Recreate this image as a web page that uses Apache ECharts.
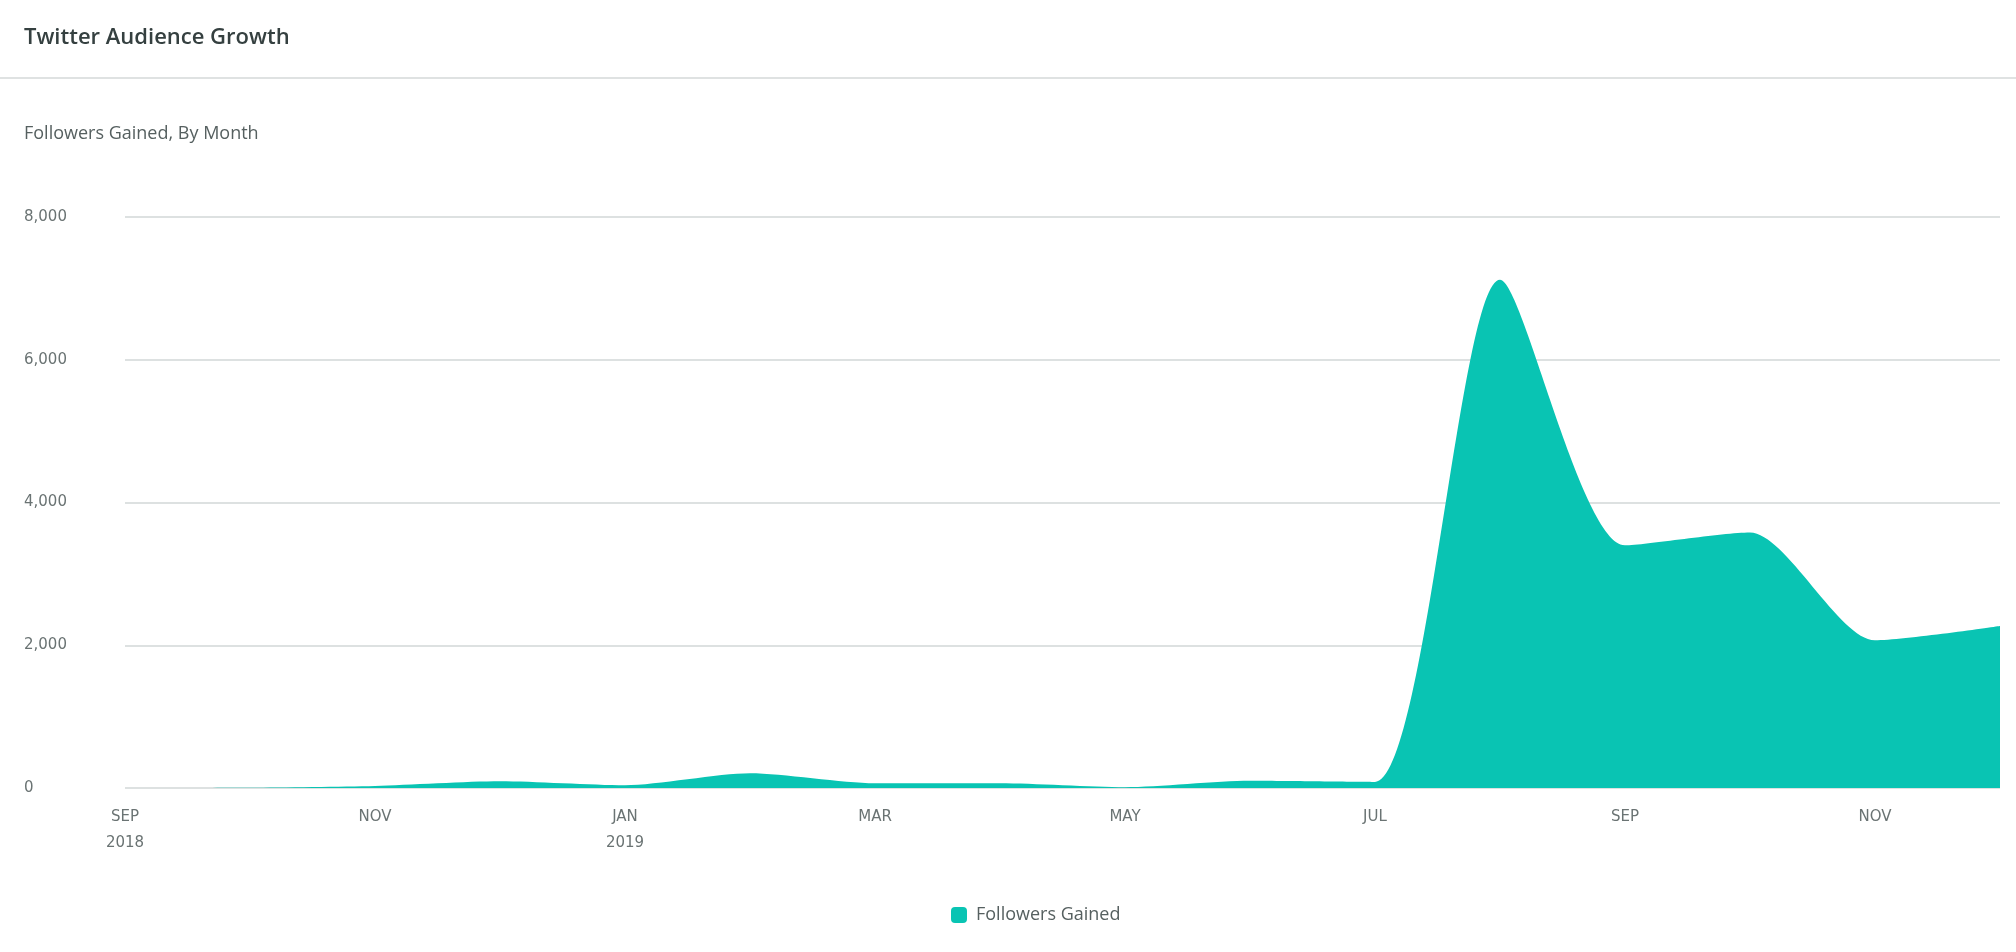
<!DOCTYPE html>
<html>
<head>
<meta charset="utf-8">
<title>Twitter Audience Growth</title>
<script src="https://cdn.jsdelivr.net/npm/echarts@6/dist/echarts.min.js"></script>
<style>
  html, body { margin: 0; padding: 0; background: #fff; }
  #chart { width: 2016px; height: 952px; }
</style>
</head>
<body>
<div id="chart"></div>
<script>
// months on the x axis (Sep 2018 - Dec 2019)
var months = ['2018-09', '2018-10', '2018-11', '2018-12', '2019-01', '2019-02', '2019-03', '2019-04',
  '2019-05', '2019-06', '2019-07', '2019-08', '2019-09', '2019-10', '2019-11', '2019-12'];
// tick labels shown under every second month
var monthLabels = ['SEP\n2018', 'OCT', 'NOV', 'DEC', 'JAN\n2019', 'FEB', 'MAR', 'APR',
  'MAY', 'JUN', 'JUL', 'AUG', 'SEP', 'OCT', 'NOV', 'DEC'];
// followers gained each month
var followersGained = [0, 3, 28, 93, 37, 205, 65, 65, 10, 100, 84, 7120, 3400, 3580, 2070, 2270];

var teal = '#09c4b3';
var labelFont = 'DejaVu Sans';

var myChart = echarts.init(document.getElementById('chart'));

var option = {
  backgroundColor: '#fff',
  animation: false,
  title: [{
    text: 'Twitter Audience Growth',
    left: 24,
    top: 27,
    padding: 0,
    textStyle: { fontFamily: 'Open Sans', fontSize: 22, fontWeight: 600, color: '#354040' }
  }, {
    text: 'Followers Gained, By Month',
    left: 24,
    top: 125,
    padding: 0,
    textStyle: { fontFamily: 'Open Sans', fontSize: 18, fontWeight: 'normal', color: '#566060' }
  }],
  graphic: [{
    type: 'rect',
    shape: { x: 0, y: 77, width: 2016, height: 2 },
    style: { fill: '#dfe2e2' }
  }],
  legend: {
    left: 951,
    top: 906,
    padding: 0,
    icon: 'roundRect',
    itemWidth: 16,
    itemHeight: 16,
    textStyle: { fontFamily: 'Open Sans', fontSize: 18, color: '#566060', padding: [0, 0, 0, 4] },
    data: ['Followers Gained']
  },
  grid: { left: 125, right: 16, top: 217, bottom: 164, containLabel: false },
  xAxis: {
    type: 'category',
    boundaryGap: false,
    data: months,
    axisLine: { show: false },
    axisTick: { show: false },
    axisLabel: {
      interval: 1,
      margin: 16,
      fontFamily: labelFont,
      fontSize: 15,
      lineHeight: 26,
      color: '#6a7373',
      formatter: function (value, idx) { return monthLabels[idx]; }
    },
    splitLine: { show: false }
  },
  yAxis: {
    type: 'value',
    min: 0,
    max: 8000,
    interval: 2000,
    axisLine: { show: false },
    axisTick: { show: false },
    axisLabel: {
      align: 'left',
      margin: 101,
      fontFamily: labelFont,
      fontSize: 15,
      color: '#6a7373',
      formatter: function (v) { return String(v).replace(/\B(?=(\d{3})+(?!\d))/g, ','); }
    },
    splitLine: { lineStyle: { color: '#dde1e1', width: 2 } }
  },
  series: [{
    name: 'Followers Gained',
    type: 'line',
    data: followersGained,
    smooth: 0.25,
    showSymbol: false,
    symbol: 'none',
    itemStyle: { color: teal },
    lineStyle: { width: 0, color: teal },
    areaStyle: { color: teal, opacity: 1 }
  }]
};

myChart.setOption(option);
</script>
</body>
</html>
